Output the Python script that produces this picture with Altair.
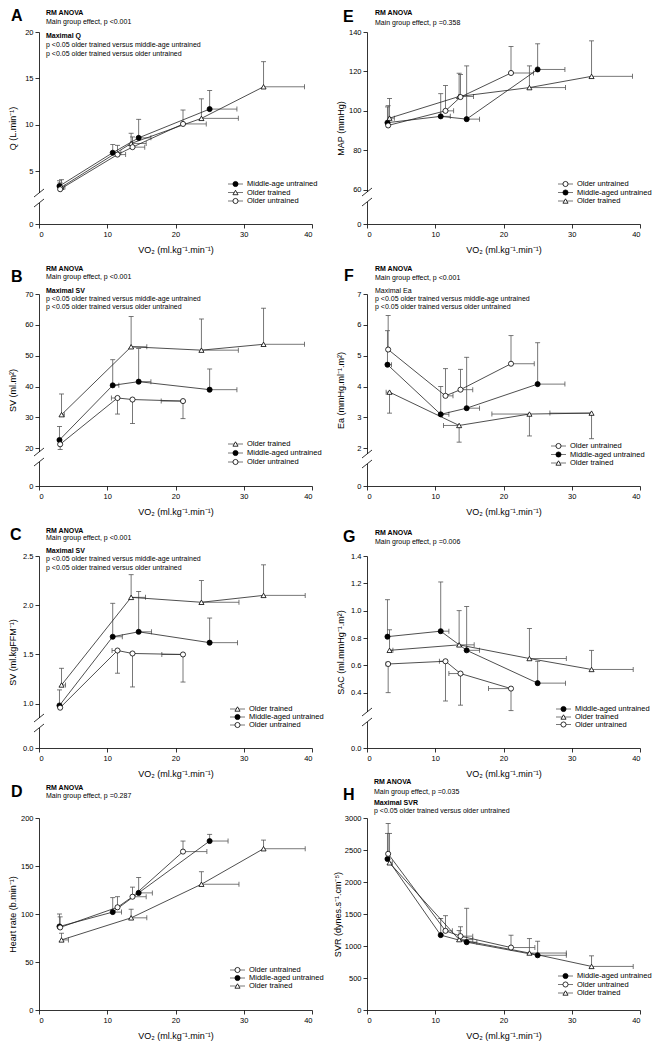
import altair as alt
import pandas as pd

FONT = "Liberation Sans"
W, H = 273, 192
EB = "#555555"   # error bar / legend line colour
LC = "#222222"   # connecting line colour

GROUPS = ["MAU", "OT", "OU"]
SHAPE = {"MAU": "circle", "OT": "triangle-up", "OU": "circle"}
FILL = {"MAU": "black", "OT": "white", "OU": "white"}

# VO2 (x) per group
MAU_VO2 = [3.0, 10.8, 14.6, 25.0]
OT_VO2 = [3.3, 13.5, 23.8, 32.9]
OU_VO2 = [3.1, 11.5, 13.7, 21.1]

# ---- Panel A : Q
A_MAU = [3.6, 7.0, 8.6, 11.7]
A_MAU_YE = [0.5, 0.9, 2.0, 2.0]
A_MAU_XE = [0.0, 1.2, 1.8, 4.0]
A_OT = [3.5, 8.0, 10.7, 14.1]
A_OT_YE = [0.7, 1.1, 2.1, 2.7]
A_OT_XE = [0.5, 2.2, 5.4, 6.0]
A_OU = [3.3, 6.8, 7.6, 10.1]
A_OU_YE = [0.6, 1.0, 1.1, 1.5]
A_OU_XE = [0.0, 1.2, 1.8, 3.4]

# ---- Panel B : SV (ml.m2)
B_MAU = [22.7, 40.4, 41.6, 39.0]
B_MAU_YE = [4.4, 8.3, 10.7, 6.7]
B_MAU_XE = [0.0, 0.9, 1.8, 4.0]
B_OT = [30.9, 52.9, 51.8, 53.7]
B_OT_YE = [6.7, 9.8, 10.1, 11.7]
B_OT_XE = [0.4, 2.3, 5.4, 6.0]
B_OU = [21.3, 36.3, 35.8, 35.3]
B_OU_YE = [-2.0, -5.2, -7.8, -5.7]
B_OU_XE = [0.0, -0.9, 0.0, -3.2]

# ---- Panel C : SV (ml.kgFFM-1)
C_MAU = [0.96, 1.68, 1.73, 1.62]
C_MAU_YE = [0.18, 0.34, 0.41, 0.25]
C_MAU_XE = [0.0, 1.4, 1.9, 4.1]
C_OT = [1.19, 2.08, 2.03, 2.10]
C_OT_YE = [0.17, 0.23, 0.22, 0.31]
C_OT_XE = [0.6, 2.1, 5.5, 6.1]
C_OU = [0.91, 1.54, 1.51, 1.50]
C_OU_YE = [0.0, -0.23, -0.34, -0.28]
C_OU_XE = [0.0, -0.8, 0.0, -3.1]

# ---- Panel D : Heart rate
D_MAU = [87, 102, 122, 176]
D_MAU_YE = [13, 15, 16, 7]
D_MAU_XE = [0.0, 1.3, 2.0, 2.7]
D_OT = [73, 96, 131, 168]
D_OT_YE = [7, 9, 13, 9]
D_OT_XE = [1.0, 2.3, 5.5, 6.1]
D_OU = [86, 107, 118, 165]
D_OU_YE = [11, 11, 10, 11]
D_OU_XE = [0.0, 0.0, 2.0, 3.5]

# ---- Panel E : MAP
E_MAU = [94.0, 97.2, 95.8, 121.0]
E_MAU_YE = [8.0, 11.5, 27.0, 13.0]
E_MAU_XE = [0.0, 1.4, 1.9, 4.0]
E_OT = [96.3, 107.3, 111.8, 117.5]
E_OT_YE = [10.0, 11.8, 11.0, 18.0]
E_OT_XE = [0.7, 2.1, 5.3, 6.0]
E_OU = [92.6, 100.0, 107.0, 119.2]
E_OU_YE = [10.0, 12.8, 11.5, 13.5]
E_OU_XE = [0.0, 1.2, 0.0, 3.3]

# ---- Panel F : Ea
F_MAU = [4.71, 3.10, 3.30, 4.08]
F_MAU_YE = [1.10, 0.90, 1.65, 1.34]
F_MAU_XE = [0.6, 1.2, 1.9, 4.0]
F_OT = [3.82, 2.74, 3.11, 3.14]
F_OT_YE = [-0.68, -0.54, -0.71, -0.83]
F_OT_XE = [-0.5, -2.3, -5.5, -6.1]
F_OU = [5.20, 3.70, 3.90, 4.74]
F_OU_YE = [1.10, 0.88, 0.66, 0.91]
F_OU_XE = [0.0, 1.1, 1.8, 3.4]

# ---- Panel G : SAC
G_MAU = [0.81, 0.85, 0.71, 0.47]
G_MAU_YE = [0.27, 0.36, 0.32, 0.16]
G_MAU_XE = [0.0, 1.2, 1.9, 4.1]
G_OT = [0.71, 0.75, 0.65, 0.57]
G_OT_YE = [0.15, 0.25, 0.22, 0.14]
G_OT_XE = [0.5, 2.2, 5.4, 6.1]
G_OU = [0.61, 0.63, 0.54, 0.43]
G_OU_YE = [-0.21, -0.29, -0.23, -0.16]
G_OU_XE = [-0.3, -0.9, -1.7, -3.3]

# ---- Panel H : SVR
H_MAU = [2360, 1170, 1060, 855]
H_MAU_YE = [400, 260, 530, 220]
H_MAU_XE = [0.0, 0.0, 1.5, 4.2]
H_OT = [2300, 1100, 890, 681]
H_OT_YE = [460, 140, 225, 165]
H_OT_XE = [0.4, 2.0, 5.4, 6.1]
H_OU = [2440, 1237, 1154, 976]
H_OU_YE = [475, 236, 146, 193]
H_OU_XE = [0.0, 1.0, 1.8, 3.5]

# ---- Texts
X_TITLE = "VO₂ (ml.kg⁻¹.min⁻¹)"
Y_TITLES = {
    "A": "Q (L.min⁻¹)", "B": "SV (ml.m²)", "C": "SV (ml.kgFFM⁻¹)",
    "D": "Heart rate (b.min⁻¹)", "E": "MAP (mmHg)", "F": "Ea (mmHg.ml⁻¹.m²)",
    "G": "SAC (ml.mmHg⁻¹.m²)", "H": "SVR (dynes.s⁻¹.cm⁻⁵)",
}
TWO_COMP = ["p <0.05 older trained versus middle-age untrained",
            "p <0.05 older trained versus older untrained"]
NOTES = {
    "A": ["RM ANOVA", "Main group effect,  p <0.001", "Maximal  Q"] + TWO_COMP,
    "B": ["RM ANOVA", "Main group effect,  p <0.001", "Maximal  SV"] + TWO_COMP,
    "C": ["RM ANOVA", "Main group effect,  p <0.001", "Maximal  SV"] + TWO_COMP,
    "D": ["RM ANOVA", "Main group effect,  p =0.287"],
    "E": ["RM ANOVA", "Main group effect,  p =0.358"],
    "F": ["RM ANOVA", "Main group effect,  p <0.001", "Maximal  Ea"] + TWO_COMP,
    "G": ["RM ANOVA", "Main group effect,  p =0.006"],
    "H": ["RM ANOVA", "Main group effect,  p =0.035", "Maximal  SVR",
          "p <0.05 older trained versus older untrained"],
}
LEG_GROUPS = {
    "A": ["MAU", "OT", "OU"], "B": ["OT", "MAU", "OU"], "C": ["OT", "MAU", "OU"],
    "D": ["OU", "MAU", "OT"], "E": ["OU", "MAU", "OT"], "F": ["OU", "MAU", "OT"],
    "G": ["MAU", "OT", "OU"], "H": ["MAU", "OU", "OT"],
}
LEG_NAMES = {"MAU": "Middle-aged untrained", "OT": "Older trained", "OU": "Older untrained"}
LEG_NAMES_A = {"MAU": "Middle-age untrained", "OT": "Older trained", "OU": "Older untrained"}

# ---- Layout / style per panel (positions in px relative to plot area)
STYLE = {
    "A": dict(ydom=[0, 5, 20], yrng=[H, 139.3, 0], yt=[0, 5, 10, 15, 20], fmt="d",
              letter=(-28, -16), nx=7, ny=[-19, -9.7, 4.3, 12.7, 22], bold=[1, 0, 1, 0, 0],
              lx=189, ly=[152, 160.5, 169], brk=166, tx=-22),
    "B": dict(ydom=[0, 20, 70], yrng=[H, 154.3, 0], yt=[0, 20, 30, 40, 50, 60, 70], fmt="d",
              letter=(-28, -17), nx=7, ny=[-25, -16.7, -2.7, 5, 13.3], bold=[1, 0, 1, 0, 0],
              lx=189, ly=[150, 159, 168], brk=163, tx=-22),
    "C": dict(ydom=[0, 1, 2.5], yrng=[H, 147.7, 0], yt=[0, 1.0, 1.5, 2.0, 2.5], fmt=".1f",
              letter=(-29, -21), nx=7, ny=[-25, -17.6, -5, 2.7, 11.7], bold=[1, 0, 1, 0, 0],
              lx=191, ly=[153, 161, 169], brk=167, tx=-22),
    "D": dict(ydom=[0, 200], yrng=[H, 0], yt=[0, 50, 100, 150, 200], fmt="d",
              letter=(-28, -26.5), nx=7, ny=[-30, -22.3], bold=[1, 0],
              lx=191, ly=[152, 160, 168], brk=None, tx=-22),
    "E": dict(ydom=[0, 60, 140], yrng=[H, 157.7, 0], yt=[0, 60, 80, 100, 120, 140], fmt="d",
              letter=(-24, -15.5), nx=8, ny=[-19.3, -9.3], bold=[1, 0],
              lx=191, ly=[152, 160.5, 169], brk=165, tx=-22),
    "F": dict(ydom=[0, 2, 7], yrng=[H, 154.3, 0], yt=[0, 2, 3, 4, 5, 6, 7], fmt="d",
              letter=(-23, -18.3), nx=8, ny=[-25.3, -16, -3.3, 4.7, 13.3], bold=[1, 0, 0, 0, 0],
              lx=184, ly=[152, 160.5, 169], brk=165, tx=-22),
    "G": dict(ydom=[0, 0.4, 1.4], yrng=[H, 136.7, 0], yt=[0, 0.4, 0.6, 0.8, 1.0, 1.2, 1.4], fmt=".1f",
              letter=(-24, -19), nx=8, ny=[-22.7, -13.7], bold=[1, 0],
              lx=189, ly=[153, 161, 168.5], brk=161, tx=-22),
    "H": dict(ydom=[0, 3000], yrng=[H, 0], yt=[0, 500, 1000, 1500, 2000, 2500, 3000], fmt="d",
              letter=(-24, -23.4), nx=7, ny=[-36, -26.4, -15.4, -7], bold=[1, 0, 1, 0],
              lx=191, ly=[158, 166.5, 175], brk=None, tx=-25),
}

SERIES = {
    "A": [("MAU", MAU_VO2, A_MAU, A_MAU_YE, A_MAU_XE), ("OT", OT_VO2, A_OT, A_OT_YE, A_OT_XE), ("OU", OU_VO2, A_OU, A_OU_YE, A_OU_XE)],
    "B": [("MAU", MAU_VO2, B_MAU, B_MAU_YE, B_MAU_XE), ("OT", OT_VO2, B_OT, B_OT_YE, B_OT_XE), ("OU", OU_VO2, B_OU, B_OU_YE, B_OU_XE)],
    "C": [("MAU", MAU_VO2, C_MAU, C_MAU_YE, C_MAU_XE), ("OT", OT_VO2, C_OT, C_OT_YE, C_OT_XE), ("OU", OU_VO2, C_OU, C_OU_YE, C_OU_XE)],
    "D": [("MAU", MAU_VO2, D_MAU, D_MAU_YE, D_MAU_XE), ("OT", OT_VO2, D_OT, D_OT_YE, D_OT_XE), ("OU", OU_VO2, D_OU, D_OU_YE, D_OU_XE)],
    "E": [("MAU", MAU_VO2, E_MAU, E_MAU_YE, E_MAU_XE), ("OT", OT_VO2, E_OT, E_OT_YE, E_OT_XE), ("OU", OU_VO2, E_OU, E_OU_YE, E_OU_XE)],
    "F": [("MAU", MAU_VO2, F_MAU, F_MAU_YE, F_MAU_XE), ("OT", OT_VO2, F_OT, F_OT_YE, F_OT_XE), ("OU", OU_VO2, F_OU, F_OU_YE, F_OU_XE)],
    "G": [("MAU", MAU_VO2, G_MAU, G_MAU_YE, G_MAU_XE), ("OT", OT_VO2, G_OT, G_OT_YE, G_OT_XE), ("OU", OU_VO2, G_OU, G_OU_YE, G_OU_XE)],
    "H": [("MAU", MAU_VO2, H_MAU, H_MAU_YE, H_MAU_XE), ("OT", OT_VO2, H_OT, H_OT_YE, H_OT_XE), ("OU", OU_VO2, H_OU, H_OU_YE, H_OU_XE)],
}

DUMMY = pd.DataFrame({"d": [0]})


def make_df(series):
    rows = []
    for g, xs, ys, yes, xes in series:
        for i, (x, y, ye, xe) in enumerate(zip(xs, ys, yes, xes)):
            rows.append(dict(g=g, i=i, x=x, y=y, ye=ye, xe=xe, y2=y + ye, x2=x + xe))
    return pd.DataFrame(rows)


def build_panel(key):
    s = STYLE[key]
    df = make_df(SERIES[key])
    xsc = alt.Scale(domain=[0, 40], nice=False, zero=False)
    ysc = alt.Scale(domain=s["ydom"], range=s["yrng"], nice=False, zero=False)
    xax = alt.Axis(values=[0, 10, 20, 30, 40], title=X_TITLE, format="d")
    yax = alt.Axis(values=s["yt"], title=Y_TITLES[key], format=s["fmt"],
                   titleX=s["tx"], titleY=H / 2)
    X = alt.X("x:Q", scale=xsc, axis=xax)
    Y = alt.Y("y:Q", scale=ysc, axis=yax)
    base = alt.Chart(df)

    layers = []
    vb = base.transform_filter("datum.ye != 0")
    hb = base.transform_filter("datum.xe != 0")
    layers.append(vb.mark_rule(color=EB, strokeWidth=0.8).encode(x=X, y=Y, y2="y2:Q"))
    layers.append(vb.mark_tick(orient="horizontal", size=5, thickness=0.8, color=EB, opacity=1)
                  .encode(x=X, y=alt.Y("y2:Q", scale=ysc, axis=yax)))
    layers.append(hb.mark_rule(color=EB, strokeWidth=0.8).encode(x=X, x2="x2:Q", y=Y))
    layers.append(hb.mark_tick(orient="vertical", size=5, thickness=0.8, color=EB, opacity=1)
                  .encode(x=alt.X("x2:Q", scale=xsc, axis=xax), y=Y))
    layers.append(base.mark_line(color=LC, strokeWidth=0.8)
                  .encode(x=X, y=Y, detail="g:N", order="i:Q"))
    layers.append(base.mark_point(filled=True, stroke="black", strokeWidth=0.8, size=26, opacity=1)
                  .encode(x=X, y=Y,
                          shape=alt.Shape("g:N", scale=alt.Scale(domain=GROUPS, range=[SHAPE[g] for g in GROUPS]), legend=None),
                          fill=alt.Fill("g:N", scale=alt.Scale(domain=GROUPS, range=[FILL[g] for g in GROUPS]), legend=None)))

    # legend (inside plot, bottom right)
    names = LEG_NAMES_A if key == "A" else LEG_NAMES
    lx = s["lx"]
    for g, yv in zip(LEG_GROUPS[key], s["ly"]):
        d = alt.Chart(DUMMY)
        layers.append(d.mark_rule(color=EB, strokeWidth=0.8)
                      .encode(x=alt.value(lx), x2=alt.value(lx + 15), y=alt.value(yv)))
        layers.append(d.mark_point(filled=True, shape=SHAPE[g], fill=FILL[g], stroke="black",
                                   strokeWidth=0.8, size=26, opacity=1)
                      .encode(x=alt.value(lx + 7.5), y=alt.value(yv)))
        layers.append(d.mark_text(text=names[g], align="left", baseline="middle", fontSize=7.5,
                                  font=FONT, color="black")
                      .encode(x=alt.value(lx + 19), y=alt.value(yv)))

    # annotations
    for txt, yv, b in zip(NOTES[key], s["ny"], s["bold"]):
        layers.append(alt.Chart(DUMMY).mark_text(text=txt, align="left", baseline="middle",
                                                 fontSize=7, font=FONT, color="black",
                                                 fontWeight="bold" if b else "normal")
                      .encode(x=alt.value(s["nx"]), y=alt.value(yv)))
    # panel letter
    lxp, lyp = s["letter"]
    layers.append(alt.Chart(DUMMY).mark_text(text=key, align="left", baseline="middle",
                                             fontSize=16, font=FONT, fontWeight="bold", color="black")
                  .encode(x=alt.value(lxp), y=alt.value(lyp)))

    # axis break
    c = s["brk"]
    if c is not None:
        d = alt.Chart(DUMMY)
        layers.append(d.mark_rule(color="white", strokeWidth=3)
                      .encode(x=alt.value(0), y=alt.value(c - 5), y2=alt.value(c + 5)))
        for off in (-5, 5):
            layers.append(d.mark_rule(color="black", strokeWidth=0.8)
                          .encode(x=alt.value(-5), x2=alt.value(5),
                                  y=alt.value(c + off + 4), y2=alt.value(c + off - 4)))

    return alt.layer(*layers).properties(width=W, height=H)


panels = [build_panel(k) for k in ["A", "E", "B", "F", "C", "G", "D", "H"]]

chart = alt.concat(*panels, columns=2, spacing={"row": 70, "column": 55}, bounds="flush").properties(
    padding=0
).configure_view(stroke=None).configure_axis(
    grid=False, domainColor="black", domainWidth=0.8, tickColor="black", tickWidth=0.8,
    tickSize=4, labelFont=FONT, labelFontSize=7.5, labelColor="black", labelPadding=2,
    titleFont=FONT, titleFontSize=9, titleFontWeight="normal", titleColor="black", titlePadding=8,
)

chart.save("out.html", embed_options={"renderer": "svg", "actions": False})
